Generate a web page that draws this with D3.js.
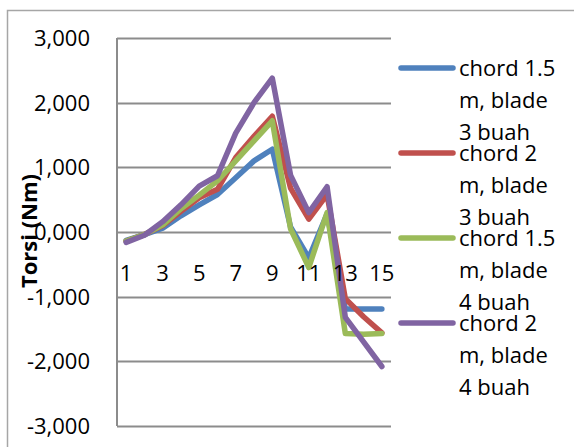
<!DOCTYPE html>
<html><head><meta charset="utf-8">
<script src="https://cdn.jsdelivr.net/npm/d3@7"></script>
<style>body{margin:0;background:#fff}svg{display:block}text{font-family:"Open Sans",sans-serif}</style>
</head><body><svg id="c" width="574" height="447"></svg>
<script>
const categories = ["1","2","3","4","5","6","7","8","9","10","11","12","13","14","15"];
const seriesNames = [["chord 1.5","m, blade","3 buah"],["chord 2","m, blade","3 buah"],["chord 1.5","m, blade","4 buah"],["chord 2","m, blade","4 buah"]];
const s1 = [-0.13,-0.04,0.06,0.25,0.42,0.58,0.84,1.10,1.28,0.08,-0.40,0.28,-1.19,-1.19,-1.19];
const s2 = [-0.14,-0.04,0.10,0.32,0.53,0.66,1.15,1.48,1.79,0.68,0.20,0.58,-1.03,-1.31,-1.56];
const s3 = [-0.14,-0.04,0.11,0.36,0.57,0.79,1.10,1.41,1.72,0.05,-0.55,0.30,-1.57,-1.58,-1.57];
const s4 = [-0.16,-0.05,0.16,0.42,0.71,0.87,1.53,2.00,2.38,0.88,0.30,0.70,-1.32,-1.70,-2.08];
const yTicks = [3,2,1,0,-1,-2,-3];
const yTickLabels = ["3,000","2,000","1,000","0,000","-1,000","-2,000","-3,000"];
const xTickLabels = ["1","","3","","5","","7","","9","","11","","13","","15"];
const colors = ["#4F81BD","#C0504D","#9BBB59","#8064A2"];
const allSeries = [s1,s2,s3,s4];

const svg = d3.select("#c");
const L=117,R=391,T=38,B=426;
const x = d3.scaleBand().domain(categories).range([L,R]);
const y = d3.scaleLinear().domain([-3,3]).range([B,T]);

// outer chart border
svg.append("rect").attr("x",7.5).attr("y",10.5).attr("width",600).attr("height",500)
  .attr("fill","none").attr("stroke","#a6a6a6").attr("stroke-width",1.5);

// gridlines
svg.append("g").selectAll("line").data(yTicks).join("line")
  .attr("x1",L).attr("x2",R).attr("y1",d=>Math.round(y(d))+0.5).attr("y2",d=>Math.round(y(d))+0.5)
  .attr("stroke","#8c8c8c").attr("stroke-width",2);
// value axis line
svg.append("line").attr("x1",L).attr("x2",L).attr("y1",T).attr("y2",B)
  .attr("stroke","#8c8c8c").attr("stroke-width",2);

// y tick labels
svg.append("g").selectAll("text").data(yTicks).join("text")
  .attr("x",90).attr("y",d=>y(d)).attr("dy","0.36em").attr("text-anchor","end")
  .attr("font-size",22).attr("fill","#000").text((d,i)=>yTickLabels[i]);

// y axis title
svg.append("text").attr("transform","translate(29,231) rotate(-90)").attr("text-anchor","middle")
  .attr("dy","0.36em").attr("font-size",22).attr("font-weight","bold").text("Torsi (Nm)");

// lines
const line = d3.line().x((d,i)=>x(categories[i])+x.bandwidth()/2).y(d=>y(d));
allSeries.forEach((s,k)=>{
  svg.append("path").datum(s).attr("d",line).attr("fill","none")
    .attr("stroke",colors[k]).attr("stroke-width",5.5).attr("stroke-linejoin","round").attr("stroke-linecap","round");
});

// x tick labels (drawn above the lines)
svg.append("g").selectAll("text").data(categories).join("text")
  .attr("x",d=>x(d)+x.bandwidth()/2).attr("y",273).attr("dy","0.36em").attr("text-anchor","middle")
  .attr("font-size",22).attr("fill","#000").text((d,i)=>xTickLabels[i]);

// legend
const legY=[68,153,238,323];
seriesNames.forEach((nm,k)=>{
  const g=svg.append("g");
  g.append("line").attr("x1",401).attr("x2",453).attr("y1",legY[k]).attr("y2",legY[k])
    .attr("stroke",colors[k]).attr("stroke-width",5.5).attr("stroke-linecap","round");
  nm.forEach((t,j)=>{
    g.append("text").attr("x",459).attr("y",legY[k]+j*32).attr("dy","0.36em")
      .attr("font-size",22).attr("fill","#000").text(t);
  });
});
</script></body></html>
